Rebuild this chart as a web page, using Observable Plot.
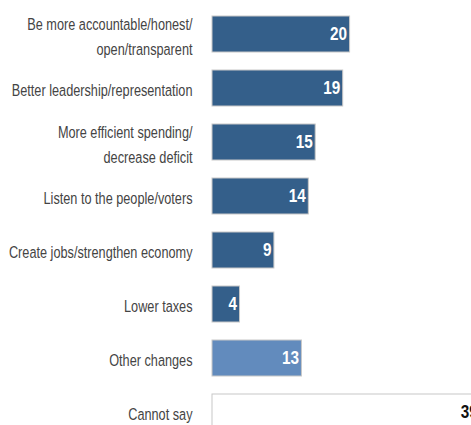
<!DOCTYPE html>
<html><head><meta charset="utf-8">
<script src="https://cdn.jsdelivr.net/npm/d3@7"></script>
<script src="https://cdn.jsdelivr.net/npm/@observablehq/plot@0.6"></script>
<style>body{margin:0;background:#fff;overflow:hidden}</style>
</head><body><div id="chart"></div>
<script>
const categories = [
  "Be more accountable/honest/\nopen/transparent",
  "Better leadership/representation",
  "More efficient spending/\ndecrease deficit",
  "Listen to the people/voters",
  "Create jobs/strengthen economy",
  "Lower taxes",
  "Other changes",
  "Cannot say"
];
const values = [20, 19, 15, 14, 9, 4, 13, 39];
const groups = ["Change", "Change", "Change", "Change", "Change", "Change", "Other", "Cannot say"];

const data = categories.map((c, i) => ({category: c, value: values[i], group: groups[i]}));
const font = "'Liberation Sans',Arial,sans-serif";

const chart = Plot.plot({
  width: 471,
  height: 425,
  marginLeft: 212,
  marginRight: 0,
  marginTop: 0,
  marginBottom: 0,
  style: {fontFamily: font, background: "#fff"},
  x: {domain: [0, 39], range: [212, 480.3], axis: null},
  y: {domain: categories, range: [-2, 448], paddingInner: 1 / 3, paddingOuter: 1 / 3, round: false, axis: null},
  color: {domain: ["Change", "Other", "Cannot say"], range: ["#345f8a", "#628bbd", "#ffffff"]},
  marks: [
    Plot.barX(data, {x: "value", y: "category", fill: "group", stroke: "#c8c8c8", strokeWidth: 1}),
    Plot.text(data, {
      x: "value", y: "category", text: d => String(d.value),
      textAnchor: "end", dx: -3, fontWeight: "bold", fontSize: 18,
      fill: d => d.group === "Cannot say" ? "#111" : "#fff",
      className: "narrow"
    }),
    Plot.text(data, {
      y: "category", text: "category", frameAnchor: "left",
      textAnchor: "end", dx: -20, fontSize: 16.5, lineHeight: 1.5, fill: "#444",
      className: "narrow2"
    })
  ]
});
// condense text horizontally around each text's anchor (mimics a condensed face)
d3.select(chart).selectAll(".narrow text").each(function() {
  this.setAttribute("transform", (this.getAttribute("transform") || "") + " scale(0.85,1)");
});
d3.select(chart).selectAll(".narrow2 text").each(function() {
  this.setAttribute("transform", (this.getAttribute("transform") || "") + " scale(0.77,1)");
});
document.getElementById("chart").append(chart);
</script>
</body></html>
